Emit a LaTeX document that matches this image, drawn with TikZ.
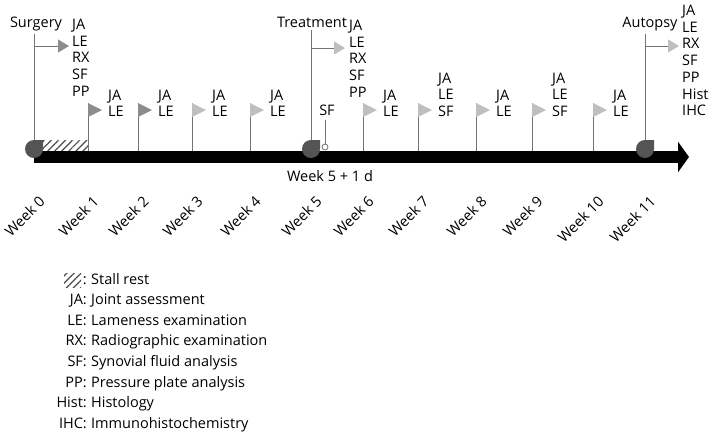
\documentclass[tikz,border=0pt]{standalone}
\usepackage{fontspec}
\setmainfont{Open Sans}
\usetikzlibrary{arrows.meta,patterns.meta}

\definecolor{markgray}{gray}{0.33}
\definecolor{linegray}{gray}{0.45}
\definecolor{flagdark}{gray}{0.55}
\definecolor{flaglight}{gray}{0.75}

\begin{document}
\begin{tikzpicture}[x=1pt,y=-1pt,
    txt/.style={font=\fontsize{14.5}{16.7}\selectfont, inner sep=0pt},
    lbl/.style={txt, align=left, anchor=north west},
    vline/.style={draw=linegray, line width=0.9pt},
    branch/.style={vline, -{Triangle[length=11pt,width=13pt,color=#1]}},
    weeklbl/.style={txt, rotate=45, anchor=east},
    hatch/.style={pattern={Lines[angle=45,distance=5pt,line width=1.2pt]}, pattern color=black!70},
  ]
  \useasboundingbox (0,0) rectangle (709,432);

  % Stall rest
  \fill[hatch] (34,140) rectangle (88,151);

  % Zeitachse
  \coordinate (start) at (34,157);
  \coordinate (end) at (689,157);
  \draw[line width=12pt, -{Triangle[length=11pt,width=30pt]}] (start) -- (end);
  \node[txt] (extra) at (330,176) {Week 5 + 1 d};

  % Wochen
  \foreach \x [count=\i from 0] in {34,88,138,192,250,311,363,418,476,532,593,645}
    \node[weeklbl] (w\i) at (\x+8,199) {Week \i};

  % Fahnen mit Untersuchungen
  \foreach \x/\exam/\col in {88/{JA\\LE}/flagdark, 138/{JA\\LE}/flagdark,
      192/{JA\\LE}/flaglight, 250/{JA\\LE}/flaglight, 363/{JA\\LE}/flaglight,
      418/{JA\\LE\\SF}/flaglight, 476/{JA\\LE}/flaglight,
      532/{JA\\LE\\SF}/flaglight, 593/{JA\\LE}/flaglight} {
    \draw[vline] (\x,103) -- (\x,151);
    \fill[\col] (\x,103) -- (\x+14,110) -- (\x,117) -- cycle;
    \node[txt, align=left, anchor=south west] at (\x+20,117) {\exam};
  }

  % Ereignisse
  \node[txt, anchor=base] (surg) at (36,27) {Surgery};
  \node[txt, anchor=base] (treat) at (312,27) {Treatment};
  \node[txt, anchor=base] (autop) at (650,27) {Autopsy};
  \coordinate (m0) at (34,149);
  \coordinate (m5) at (311,149);
  \coordinate (m11) at (645,149);
  \draw[vline] (surg.south -| m0) ++(0,3) -- (m0);
  \draw[vline] (treat.south -| m5) ++(0,3) -- (m5);
  \draw[vline] (autop.south -| m11) ++(0,3) -- (m11);
  \coordinate (surgtip) at (69,46);
  \coordinate (treattip) at (345,48);
  \coordinate (autoptip) at (679,46);
  \draw[branch=flagdark] (m0 |- surgtip) -- (surgtip);
  \draw[branch=flaglight] (m5 |- treattip) -- (treattip);
  \draw[branch=flaglight] (m11 |- autoptip) -- (autoptip);
  \foreach \m in {m0,m5,m11}
    \fill[markgray] (\m) ++(0,-9) -- ++(9,0) -- ++(0,9) arc (0:270:9) -- cycle;

  \node[lbl] (surgexam) at (72,19) {JA\\LE\\RX\\SF\\PP};
  \node[lbl] (treatexam) at (349,20) {JA\\LE\\RX\\SF\\PP};
  \node[lbl] (autopexam) at (682,5) {JA\\LE\\RX\\SF\\PP\\Hist\\IHC};

  % Synovia Woche 5 + 1 d
  \node[txt] (sfone) at (327,110) {SF};
  \coordinate (sfdot) at (325,147);
  \draw[vline] (sfone.south -| sfdot) ++(0,4) -- ([yshift=-3pt]sfdot);
  \draw[linegray, fill=white, line width=0.8pt] (sfdot) circle (3);

  % Legende
  \fill[hatch] (64,273) rectangle (81,287);
  \node[txt, anchor=base east] at (87,284) {:};
  \node[txt, anchor=base west] at (91,284) {Stall rest};
  \foreach \ab/\desc [count=\i] in {JA/Joint assessment, LE/Lameness examination,
      RX/Radiographic examination, SF/Synovial fluid analysis,
      PP/Pressure plate analysis, Hist/Histology, IHC/Immunohistochemistry} {
    \node[txt, anchor=base east] at (87,284+20.6*\i) {\ab:};
    \node[txt, anchor=base west] at (91,284+20.6*\i) {\desc};
  }
\end{tikzpicture}
\end{document}
